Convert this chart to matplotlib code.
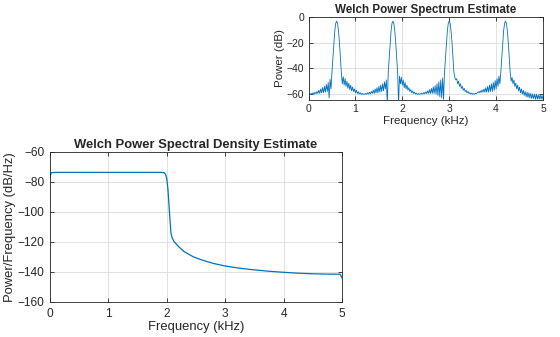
import numpy as np
import matplotlib
matplotlib.use("Agg")
import matplotlib.pyplot as plt

plt.rcParams['font.family'] = ['Liberation Sans', 'DejaVu Sans']

# ---------------- Top: Welch power spectrum (dB), 0..5 kHz in 0.02 kHz steps
spec_freq_khz = np.linspace(0, 5, 251)
spec_power_db = [
    # 0.00 - 0.48
    -60.5, -59.8, -60.2, -59.5, -60.0, -59.0, -60.0, -58.5, -59.8, -58.0,
    -59.5, -57.0, -59.5, -56.0, -59.0, -55.0, -59.0, -54.0, -58.5, -52.5,
    -58.0, -51.0, -63.0, -48.5, -56.0,
    # 0.50 - 0.70 main lobe (peak 0.6)
    -43.0, -32.0, -20.0, -11.0, -5.0, -3.2, -5.0, -11.0, -20.0, -32.0, -43.0,
    # 0.72 - 1.20
    -52.0, -46.5, -53.0, -48.0, -54.0, -50.0, -55.5, -51.5, -56.5, -53.0,
    -57.5, -54.5, -58.0, -56.0, -59.0, -57.0, -59.5, -58.0, -60.0, -59.0,
    -60.2, -59.5, -60.3, -59.8, -60.2,
    # 1.22 - 1.68
    -59.5, -60.2, -59.0, -60.0, -58.5, -59.8, -58.0, -59.5, -57.0, -59.5,
    -56.0, -59.0, -55.0, -59.0, -54.0, -58.5, -53.0, -58.0, -52.0, -57.5,
    -50.5, -56.0, -49.0, -68.0,
    # 1.70 - 1.90 main lobe (peak 1.8)
    -43.0, -32.0, -20.0, -11.0, -5.0, -3.2, -5.0, -11.0, -20.0, -32.0, -43.0,
    # 1.92 - 2.40
    -68.0, -46.0, -52.0, -47.0, -53.0, -49.0, -55.0, -51.0, -56.0, -53.0,
    -57.0, -55.0, -58.0, -56.5, -59.0, -57.5, -59.5, -58.5, -60.0, -59.2,
    -60.2, -59.6, -60.3, -59.7, -60.1,
    # 2.42 - 2.88
    -59.3, -60.0, -58.8, -59.8, -58.2, -59.6, -57.5, -59.5, -56.5, -59.5,
    -55.5, -59.5, -54.5, -59.5, -53.5, -60.0, -52.0, -61.0, -50.5, -62.0,
    -49.0, -63.0, -47.5, -64.0,
    # 2.90 - 3.10 main lobe (peak 3.0)
    -43.0, -32.0, -20.0, -11.0, -5.0, -3.2, -5.0, -11.0, -20.0, -32.0, -43.0,
    # 3.12 - 3.60
    -47.0, -49.0, -48.0, -52.0, -50.0, -54.0, -52.0, -55.5, -54.0, -57.0,
    -55.5, -58.0, -57.0, -59.0, -58.0, -59.5, -58.8, -60.0, -59.3, -60.2,
    -59.5, -60.0, -59.3, -59.8, -58.8,
    # 3.62 - 4.08
    -58.2, -59.0, -57.5, -58.8, -56.8, -58.5, -56.0, -58.5, -55.0, -58.5,
    -54.0, -58.5, -53.0, -58.0, -52.0, -58.0, -51.0, -57.0, -49.5, -56.0,
    -48.0, -54.0, -46.0, -52.0,
    # 4.10 - 4.30 main lobe (peak 4.2)
    -43.0, -32.0, -20.0, -11.0, -5.0, -3.2, -5.0, -11.0, -20.0, -32.0, -43.0,
    # 4.32 - 5.00
    -50.0, -47.0, -52.0, -49.0, -54.0, -51.5, -56.0, -53.0, -57.5, -54.5,
    -59.0, -56.0, -60.0, -57.0, -61.0, -58.0, -62.0, -58.5, -62.5, -59.0,
    -63.0, -59.5, -63.5, -60.0, -63.5, -60.0, -64.0, -60.0, -64.0, -60.5,
    -64.0, -60.5, -64.0, -61.0, -64.0,
]

# ---------------- Bottom: Welch PSD (dB/Hz)
psd_freq_khz = [0.0, 0.02, 0.1, 1.0, 1.9, 1.95, 1.98, 2.0, 2.02, 2.04, 2.06,
                2.07, 2.09, 2.12, 2.2, 2.3, 2.45, 2.6, 2.8, 3.0, 3.25, 3.5,
                3.75, 4.0, 4.25, 4.5, 4.75, 4.97, 5.0]
psd_db_hz = [-77.0, -73.8, -73.6, -73.6, -73.6, -73.7, -75.0, -78.0, -85.0,
             -97.0, -108.0, -114.0, -117.0, -119.5, -123.0, -126.5, -129.8,
             -132.0, -134.3, -136.0, -137.5, -138.6, -139.5, -140.2, -140.8,
             -141.2, -141.4, -141.5, -144.0]

line_color = (0.0, 0.447, 0.741)
ax_color = '#262626'
grid_color = '#dcdcdc'

fig = plt.figure(figsize=(5.6, 3.37), dpi=100)


def style(ax, labelsize, pad):
    ax.grid(True, color=grid_color, linewidth=0.6)
    ax.set_axisbelow(True)
    for s in ax.spines.values():
        s.set_color(ax_color)
        s.set_linewidth(0.6)
    ax.tick_params(direction='in', length=3, width=0.6, colors=ax_color,
                   labelsize=labelsize, top=True, right=True, pad=pad)


ax1 = fig.add_axes([308.5 / 560, (337 - 100) / 337, 234.5 / 560, 83 / 337])
ax1.plot(spec_freq_khz, spec_power_db, color=line_color, linewidth=0.6)
ax1.set_xlim(0, 5)
ax1.set_ylim(-64.6, 0)
ax1.set_xticks([0, 1, 2, 3, 4, 5])
ax1.set_yticks([-60, -40, -20, 0])
style(ax1, 7.5, 3)
ax1.set_title('Welch Power Spectrum Estimate', fontsize=8.4, fontweight='bold',
              color=ax_color, pad=3)
ax1.set_xlabel('Frequency (kHz)', fontsize=8.25, color=ax_color, labelpad=1)
ax1.set_ylabel('Power (dB)', fontsize=8.25, color=ax_color, labelpad=1)

ax2 = fig.add_axes([50 / 560, (337 - 302) / 337, 292 / 560, 150 / 337])
ax2.plot(psd_freq_khz, psd_db_hz, color=line_color, linewidth=0.9)
ax2.set_xlim(0, 5)
ax2.set_ylim(-160, -60)
ax2.set_xticks([0, 1, 2, 3, 4, 5])
ax2.set_yticks([-160, -140, -120, -100, -80, -60])
style(ax2, 8.6, 4)
ax2.set_title('Welch Power Spectral Density Estimate', fontsize=9.4,
              fontweight='bold', color=ax_color, pad=3)
ax2.set_xlabel('Frequency (kHz)', fontsize=9.4, color=ax_color, labelpad=1)
ax2.set_ylabel('Power/Frequency (dB/Hz)', fontsize=9.4, color=ax_color,
               labelpad=1)

fig.savefig('out.png', dpi=100)
